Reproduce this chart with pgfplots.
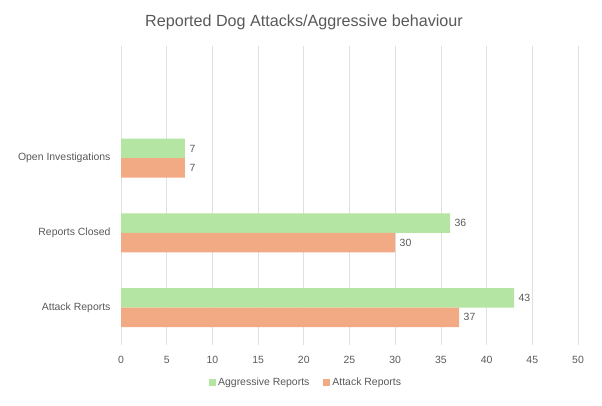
\documentclass[border=0pt]{standalone}
\usepackage{fontspec}
\setmainfont{Liberation Sans}
\usepackage{pgfplots}
\pgfplotsset{compat=1.18}

\definecolor{aggr}{HTML}{B4E5A2}
\definecolor{attk}{HTML}{F2AA84}
\definecolor{txt}{HTML}{595959}
\definecolor{gridc}{HTML}{E0E0E0}

\begin{document}
\begin{tikzpicture}
\useasboundingbox (0,0) rectangle (602bp,406bp);
\node[text=txt, font=\fontsize{16.2}{19}\selectfont] at (304bp,384bp) {Reported Dog Attacks/Aggressive behaviour};
\begin{axis}[
    at={(121bp,61bp)}, anchor=south west,
    scale only axis, width=457bp, height=299bp,
    xbar, bar width=0.26,
    xmin=0, xmax=50, ymin=-0.5, ymax=3.5,
    xtick={0,5,...,50},
    ytick={0,1,2},
    yticklabels={Attack Reports, Reports Closed, Open Investigations},
    axis line style={draw=none},
    major tick length=0pt,
    xmajorgrids, grid style={gridc, line width=0.8pt},
    ticklabel style={text=txt, font=\fontsize{10.5}{12}\selectfont},
    /pgf/number format/assume math mode=true,
    xticklabel style={yshift=-8bp},
    yticklabel style={xshift=-7bp},
    nodes near coords,
    nodes near coords style={text=txt, font=\fontsize{10.5}{12}\selectfont, xshift=1bp},
    legend columns=2,
    legend style={at={(0.405,-0.124)}, anchor=center, draw=none, fill=none,
        font=\fontsize{10.5}{12}\selectfont, text=txt,
        /tikz/every even column/.append style={column sep=12bp}},
    legend image code/.code={\fill[#1] (0bp,-3.5bp) rectangle (7bp,3.5bp);},
]
\addplot[fill=aggr, draw=none, bar shift=0.13] coordinates {(43,0) (36,1) (7,2)};
\addlegendentry{Aggressive Reports}
\addplot[fill=attk, draw=none, bar shift=-0.13] coordinates {(37,0) (30,1) (7,2)};
\addlegendentry{Attack Reports}
\end{axis}
\end{tikzpicture}
\end{document}
